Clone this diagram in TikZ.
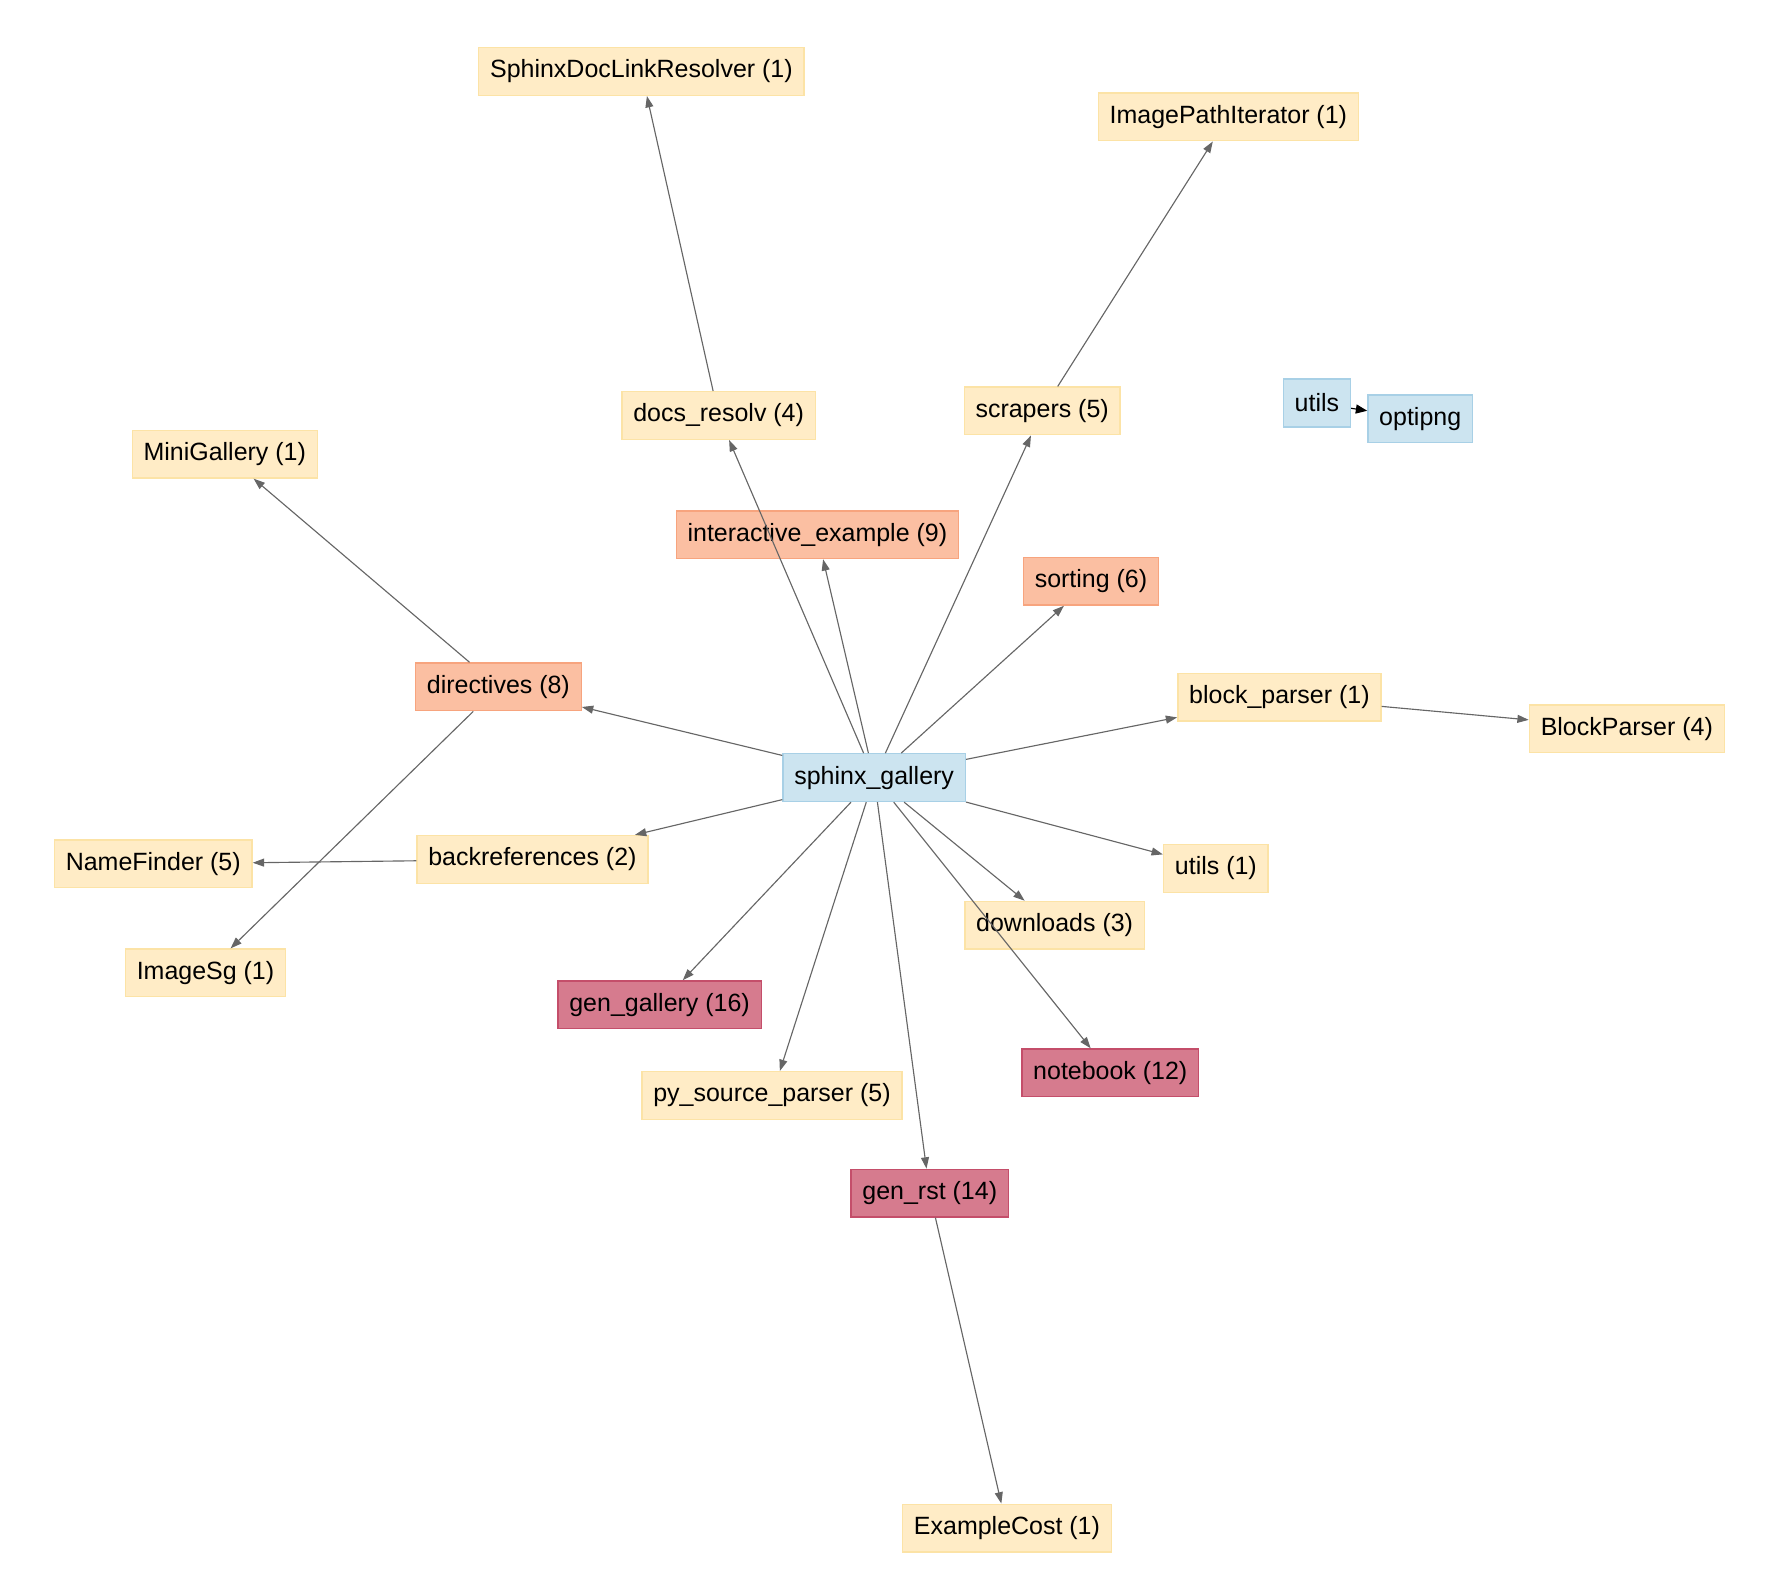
\documentclass[tikz,border=0pt]{standalone}
\usepackage{fontspec}
\setmainfont{Liberation Sans}
\usetikzlibrary{arrows.meta}
\definecolor{yf}{HTML}{FFECC6}\definecolor{yd}{HTML}{FCE3A6}
\definecolor{of}{HTML}{FBBFA2}\definecolor{od}{HTML}{F7A47E}
\definecolor{rf}{HTML}{D67B8E}\definecolor{rd}{HTML}{C44E6A}
\definecolor{bf}{HTML}{CCE4F0}\definecolor{bd}{HTML}{A8D0E6}
\begin{document}
\begin{tikzpicture}[x=0.5pt,y=-0.5pt,
 box/.style={font=\fontsize{11}{13}\selectfont,minimum height=21pt,inner xsep=5pt,inner ysep=0pt,line width=0.6pt},
 yb/.style={box,fill=yf,draw=yd},
 ob/.style={box,fill=of,draw=od},
 rb/.style={box,fill=rf,draw=rd},
 bb/.style={box,fill=bf,draw=bd},
 e/.style={draw=black!60,line width=0.5pt,-{Triangle[length=5pt,width=3.5pt]}}]
\useasboundingbox (0,0) rectangle (1560,1403);
\node[yb] (sdlr) at (565,63) {SphinxDocLinkResolver (1)};
\node[yb] (ipi) at (1082,103) {ImagePathIterator (1)};
\node[yb] (dr) at (633,366) {docs\_resolv (4)};
\node[yb] (scr) at (918,362) {scrapers (5)};
\node[bb] (ut) at (1160,355) {utils};
\node[bb] (opt) at (1251,369) {optipng};
\node[yb] (mg) at (198,400) {MiniGallery (1)};
\node[ob] (ie) at (720,471) {interactive\_example (9)};
\node[ob] (so) at (961,512) {sorting (6)};
\node[ob] (dir) at (439,605) {directives (8)};
\node[yb] (bp) at (1127,614) {block\_parser (1)};
\node[yb] (BP) at (1433,642) {BlockParser (4)};
\node[bb] (sg) at (770,685) {sphinx\_gallery};
\node[yb] (nf) at (135,761) {NameFinder (5)};
\node[yb] (br) at (469,757) {backreferences (2)};
\node[yb] (u1) at (1071,765) {utils (1)};
\node[yb] (dl) at (929,815) {downloads (3)};
\node[yb] (isg) at (181,857) {ImageSg (1)};
\node[rb] (gg) at (581,885) {gen\_gallery (16)};
\node[rb] (nb) at (978,945) {notebook (12)};
\node[yb] (psp) at (680,965) {py\_source\_parser (5)};
\node[rb] (gr) at (819,1051) {gen\_rst (14)};
\node[yb] (ec) at (887,1346) {ExampleCost (1)};
\foreach \t in {dr,scr,ie,so,dir,bp,br,u1,dl,gg,nb,psp,gr} \draw[e] (sg) -- (\t);
\draw[e] (dr) -- (sdlr);
\draw[e] (scr) -- (ipi);
\draw[e] (dir) -- (mg);
\draw[e] (dir) -- (isg);
\draw[e] (br) -- (nf);
\draw[e] (bp) -- (BP);
\draw[e] (gr) -- (ec);
\draw[line width=0.5pt,-{Triangle[length=5pt,width=4pt]}] (ut) -- (opt);
\end{tikzpicture}
\end{document}
